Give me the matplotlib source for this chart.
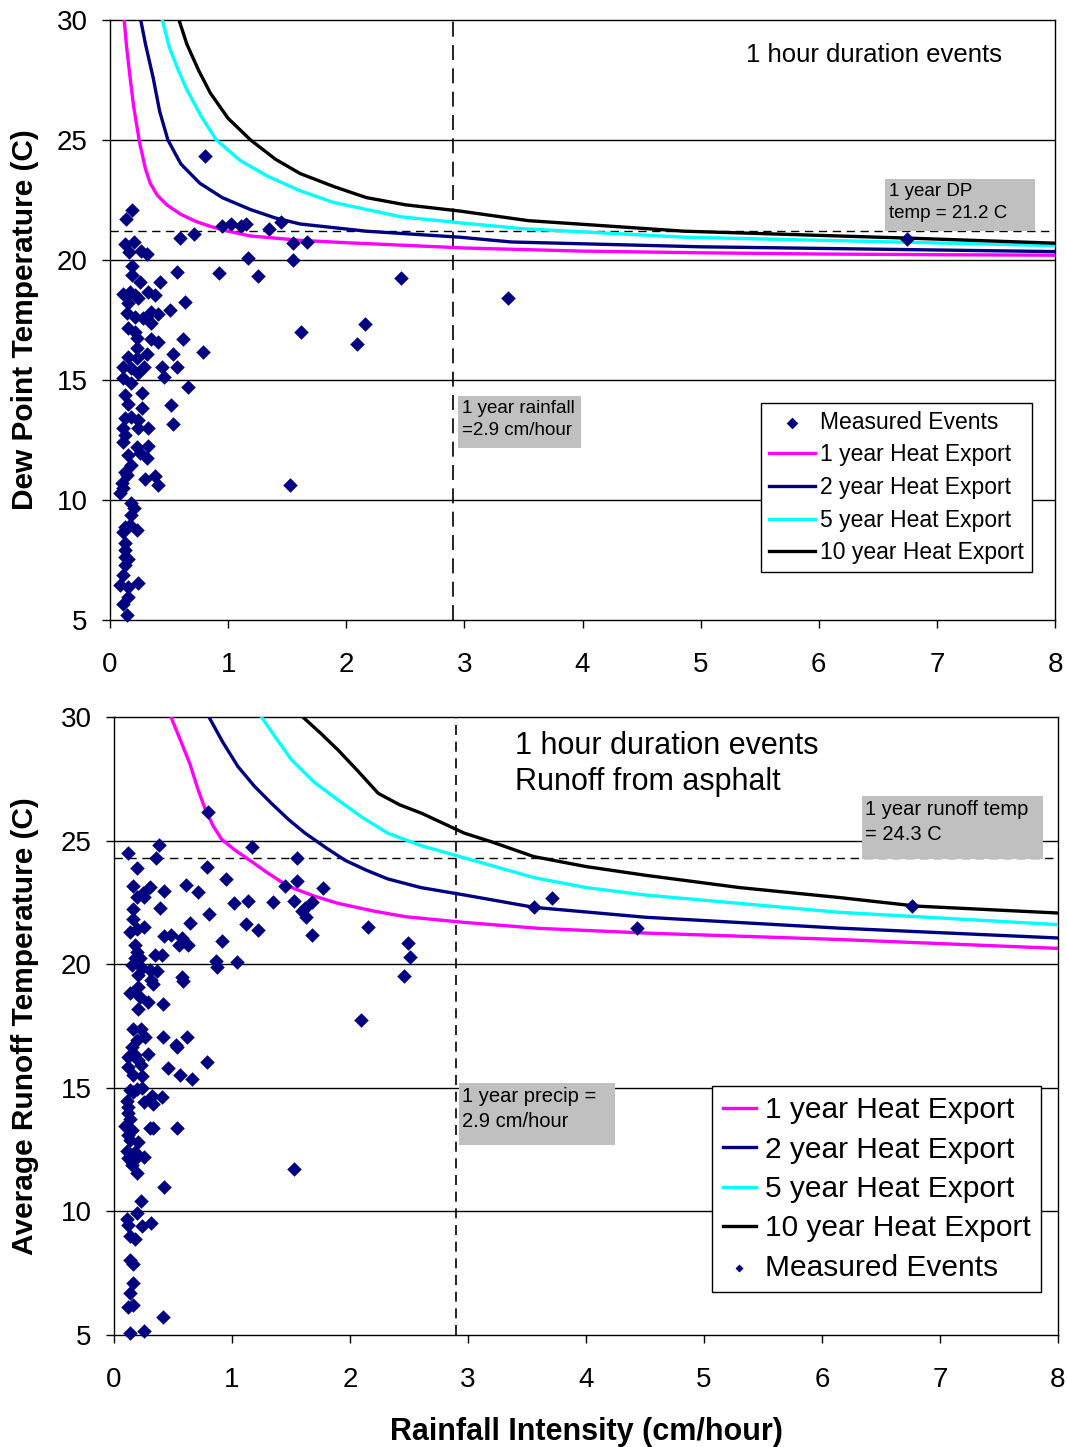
import numpy as np
import matplotlib
matplotlib.use('Agg')
import matplotlib.pyplot as plt
from matplotlib.patches import Rectangle

plt.rcParams['font.family'] = ['Liberation Sans', 'DejaVu Sans']

# ---- Dew point panel: measured events ----
dp_x = [0.19, 0.135, 0.95, 1.02, 1.11, 1.15, 1.35, 1.45, 0.59, 0.71, 1.55, 1.67, 1.17, 1.55,
        0.127, 0.206, 0.16, 0.26, 0.31, 0.19, 0.19, 0.57, 0.92, 1.25, 0.42, 0.25, 0.635, 0.32,
        0.38, 0.11, 0.17, 0.21, 0.155, 0.24, 0.51, 0.35, 0.41, 0.35, 0.14, 0.21, 0.28, 1.62,
        0.155, 0.21, 0.35, 0.41, 0.62, 0.226, 0.226, 0.79, 0.31, 0.155, 0.226, 0.53, 0.11, 0.18,
        0.29, 0.24, 0.44, 0.565, 0.46, 0.11, 0.18, 0.66, 0.127, 0.27, 0.155, 0.52, 0.27,
        0.127, 0.18, 0.24, 0.536, 0.11, 0.24, 0.32, 0.127, 0.11, 0.226, 0.32, 0.155, 0.254, 0.31,
        0.178, 0.127, 0.14, 0.296, 0.38, 0.41, 1.52, 0.1, 0.11, 0.085, 0.18, 0.2, 0.18, 0.127,
        0.17, 0.226, 0.11, 0.127, 0.127, 0.127, 0.155, 0.127, 0.11, 0.085, 0.155, 0.24, 0.155,
        0.11, 0.14, 0.8, 2.16, 2.09, 2.46, 3.37, 6.75]
dp_y = [22.1, 21.7, 21.43, 21.5, 21.43, 21.5, 21.3, 21.6, 20.9, 21.1, 20.7, 20.76, 20.1, 20.0,
        20.65, 20.76, 20.32, 20.37, 20.24, 19.75, 19.37, 19.49, 19.47, 19.35, 19.1, 19.1, 18.25, 18.68,
        18.54, 18.57, 18.68, 18.54, 18.2, 18.4, 17.9, 17.85, 17.74, 17.36, 17.78, 17.64, 17.57, 17.0,
        17.15, 17.0, 16.7, 16.57, 16.7, 16.74, 16.32, 16.18, 16.07, 15.97, 15.9, 16.07, 15.55, 15.49,
        15.55, 15.28, 15.55, 15.55, 15.14, 15.07, 14.86, 14.72, 14.37, 14.44, 13.98, 13.96, 13.83,
        13.4, 13.47, 13.33, 13.17, 12.99, 12.99, 12.99, 12.71, 12.4, 12.2, 12.26, 11.88, 11.95, 11.76,
        11.46, 11.18, 11.04, 10.88, 11.01, 10.63, 10.63, 10.7, 10.49, 10.28, 9.86, 9.65, 9.38, 8.89,
        8.96, 8.75, 8.68, 8.2, 7.92, 7.64, 7.54, 7.3, 6.87, 6.46, 6.39, 6.53, 5.97,
        5.65, 5.2, 24.35, 17.33, 16.5, 19.25, 18.4, 20.86]

# Dew point heat export curves
dp1_x = [0.12, 0.14, 0.17, 0.2, 0.25, 0.3, 0.34, 0.4, 0.48, 0.6, 0.73, 0.85, 1.0, 1.19, 1.61,
         2.0, 3.0, 4.0, 5.0, 6.0, 7.0, 8.0]
dp1_y = [30.0, 28.9, 27.6, 26.4, 24.9, 23.8, 23.2, 22.7, 22.3, 21.9, 21.6, 21.4, 21.2, 21.0, 20.82,
         20.72, 20.5, 20.37, 20.3, 20.25, 20.22, 20.2]
dp2_x = [0.26, 0.3, 0.365, 0.42, 0.49, 0.6, 0.76, 0.95, 1.19, 1.4, 1.61, 2.17, 2.96, 3.4, 5.0, 8.0]
dp2_y = [30.0, 29.0, 27.6, 26.2, 25.0, 24.0, 23.2, 22.6, 22.1, 21.75, 21.5, 21.2, 20.95, 20.75,
         20.55, 20.35]
dp5_x = [0.443, 0.5, 0.57, 0.65, 0.77, 0.9, 1.1, 1.33, 1.6, 1.89, 2.46, 2.96, 3.5, 4.86, 8.0]
dp5_y = [30.0, 28.9, 28.0, 27.1, 26.0, 25.0, 24.15, 23.5, 22.9, 22.4, 21.8, 21.55, 21.3, 20.95, 20.6]
dp10_x = [0.584, 0.65, 0.75, 0.85, 1.0, 1.19, 1.4, 1.61, 1.9, 2.17, 2.5, 2.96, 3.54, 4.86, 6.83, 8.0]
dp10_y = [30.0, 29.0, 27.9, 26.95, 25.9, 25.0, 24.2, 23.6, 23.05, 22.6, 22.3, 22.04, 21.64, 21.2,
          20.9, 20.7]

# ---- Runoff panel: measured events ----
ro_x = [0.116, 0.381, 0.353, 0.192, 1.167, 1.548, 0.785, 0.946, 1.548, 1.449, 1.774, 0.158, 0.305,
        0.427, 0.607, 0.709, 0.249, 0.192, 0.257, 1.02, 1.138, 1.35, 1.528, 1.675, 1.619, 1.59,
        1.627, 0.39, 0.158, 0.158, 0.808, 0.644, 1.119, 1.217, 0.136, 0.192, 0.257, 1.681, 0.427,
        0.483, 0.579, 0.551, 0.624, 0.912, 0.178, 0.192, 0.178, 0.22, 0.347, 0.409, 0.864, 0.87,
        1.04, 0.15, 0.234, 0.206, 0.305, 0.362, 0.314, 0.333, 0.573, 0.588, 0.2, 0.138, 0.22,
        0.291, 0.206, 0.412, 0.164, 0.229, 0.263, 0.192, 0.15, 0.412, 0.621, 0.522, 0.531, 0.121,
        0.206, 0.291, 0.229, 0.178, 0.791, 0.46, 0.121, 0.559, 0.658, 0.164, 0.234,
        0.136, 0.192, 0.234, 0.164, 0.325, 0.41, 0.257, 0.333, 0.107, 0.116, 0.116, 0.136, 0.093,
        0.15, 0.305, 0.333, 0.531, 0.121, 0.136, 0.206, 0.107, 0.178, 0.192, 0.15, 0.257, 0.121,
        0.15, 0.192, 1.528, 0.427, 0.229, 0.192, 0.107, 0.121, 0.24, 0.314, 0.136, 0.178, 0.136,
        0.164, 0.164, 0.136, 0.121, 0.164, 0.418, 0.136, 0.257,
        0.8, 2.155, 2.49, 2.51, 2.46, 2.09, 3.56, 3.71, 4.43, 6.76]
ro_y = [24.49, 24.82, 24.31, 23.88, 24.73, 24.28, 23.92, 23.43, 23.38, 23.18, 23.07, 23.16, 23.14,
        22.98, 23.2, 22.94, 22.87, 22.71, 22.73, 22.49, 22.57, 22.5, 22.57, 22.5, 22.26, 22.17,
        21.9, 22.29, 22.23, 21.83, 22.03, 21.65, 21.61, 21.39, 21.32, 21.41, 21.52, 21.17, 21.14,
        21.17, 21.05, 20.78, 20.78, 20.95, 20.78, 20.51, 20.24, 20.24, 20.37, 20.37, 20.14, 19.9,
        20.09, 19.97, 19.83, 19.56, 19.77, 19.73, 19.36, 19.2, 19.5, 19.33, 19.07, 18.82, 18.69,
        18.46, 18.2, 18.38, 17.37, 17.37, 17.04, 16.93, 16.66, 17.07, 17.04, 16.73, 16.67, 16.26,
        16.13, 16.37, 15.92, 16.33, 16.05, 15.79, 15.83, 15.52, 15.34, 15.52, 15.48,
        14.91, 14.95, 14.98, 14.85, 14.68, 14.64, 14.41, 14.33, 14.47, 14.24, 13.97, 13.73, 13.47,
        13.3, 13.39, 13.39, 13.39, 13.09, 12.89, 12.8, 12.45, 12.42, 12.22, 12.01, 12.22, 12.15,
        11.88, 11.54, 11.7, 11.0, 10.42, 9.92, 9.69, 9.45, 9.41, 9.55, 9.01, 8.87, 8.04,
        7.86, 7.09, 6.71, 6.12, 6.22, 5.74, 5.07, 5.16,
        26.14, 21.49, 20.84, 20.28, 19.53, 17.74, 22.33, 22.66, 21.45, 22.35]

# Runoff heat export curves
ro1_x = [0.483, 0.56, 0.644, 0.71, 0.771, 0.84, 0.913, 1.03, 1.167, 1.3, 1.477, 1.7, 1.9, 2.2,
         2.47, 2.97, 3.6, 4.5, 6.14, 8.0]
ro1_y = [30.0, 29.1, 28.1, 27.1, 26.3, 25.6, 25.05, 24.6, 24.15, 23.7, 23.15, 22.75, 22.46, 22.15,
         21.92, 21.69, 21.45, 21.26, 21.0, 20.64]
ro2_x = [0.805, 0.92, 1.05, 1.19, 1.336, 1.48, 1.62, 1.8, 1.96, 2.14, 2.32, 2.6, 2.97, 3.56, 4.5,
         6.14, 8.0]
ro2_y = [30.0, 29.0, 28.0, 27.2, 26.5, 25.85, 25.3, 24.7, 24.2, 23.8, 23.45, 23.1, 22.8, 22.3,
         21.9, 21.46, 21.06]
ro5_x = [1.25, 1.38, 1.506, 1.7, 1.9, 2.1, 2.32, 2.6, 2.97, 3.56, 4.0, 4.5, 6.14, 8.0]
ro5_y = [30.0, 29.1, 28.26, 27.35, 26.64, 25.95, 25.3, 24.8, 24.3, 23.5, 23.1, 22.8, 22.1, 21.6]
ro10_x = [1.6, 1.75, 1.9, 2.07, 2.24, 2.42, 2.61, 2.97, 3.2, 3.56, 4.0, 4.5, 5.3, 6.14, 6.8, 8.0]
ro10_y = [30.0, 29.35, 28.66, 27.8, 26.91, 26.45, 26.1, 25.3, 24.95, 24.35, 23.95, 23.6, 23.1,
          22.7, 22.35, 22.07]

dp_threshold = 21.2
ro_threshold = 24.3
rain_1yr = 2.9

curve_colors = ['#FF00FF', '#000080', '#00FFFF', '#000000']
curve_labels = ['1 year Heat Export', '2 year Heat Export', '5 year Heat Export', '10 year Heat Export']
event_color = '#000080'

fig = plt.figure(figsize=(10.67, 14.47), dpi=100)
ax1 = fig.add_axes([0.1031, 0.5715, 0.8857, 0.4147])
ax2 = fig.add_axes([0.1068, 0.0774, 0.8847, 0.4271])


def setup_axes(ax):
    ax.set_xlim(0, 8)
    ax.set_ylim(5, 30)
    ax.set_xticks(range(0, 9))
    ax.set_yticks(range(5, 31, 5))
    for y in range(10, 30, 5):
        ax.axhline(y, color='black', lw=1.0, zorder=1)
    for s in ax.spines.values():
        s.set_color('black')
        s.set_linewidth(1.0)
    ax.tick_params(axis='x', direction='out', length=6, width=1, labelsize=20, pad=17)
    ax.tick_params(axis='y', direction='out', length=6, width=1, labelsize=20, pad=10)


def grey_box(ax, x0, y0, x1, y1, text, fontsize, spacing):
    ax.add_patch(Rectangle((x0, y0), x1 - x0, y1 - y0, transform=ax.transAxes,
                           facecolor='#C0C0C0', edgecolor='none', zorder=6))
    ax.text(x0 + 0.004, y1 - 0.006, text, transform=ax.transAxes, fontsize=fontsize,
            ha='left', va='top', linespacing=spacing, zorder=7)


# Top panel: dew point temperature
setup_axes(ax1)
ax1.axhline(dp_threshold, color='black', lw=1.0, ls=(0, (6, 4)), zorder=2)
ax1.axvline(rain_1yr, color='black', lw=1.2, ls=(0, (9, 5)), zorder=2)
dp_curves = [(dp1_x, dp1_y), (dp2_x, dp2_y), (dp5_x, dp5_y), (dp10_x, dp10_y)]
ev1 = ax1.scatter(dp_x, dp_y, marker='D', s=55, color=event_color, zorder=5,
                  clip_on=False, label='Measured Events', linewidths=0)
lines1 = []
for (cx, cy), c, lab in zip(dp_curves, curve_colors, curve_labels):
    ln, = ax1.plot(cx, cy, color=c, lw=2.4, label=lab, zorder=4, solid_joinstyle='round')
    lines1.append(ln)
ax1.set_ylabel('Dew Point Temperature (C)', fontsize=21.5, fontweight='bold')
ax1.yaxis.set_label_coords(-0.075, 0.5)
ax1.text(5.38, 28.55, '1 hour duration events', fontsize=18.5, ha='left', va='center')
grey_box(ax1, 0.820, 0.648, 0.979, 0.735, '1 year DP\ntemp = 21.2 C', 13.5, 1.38)
grey_box(ax1, 0.368, 0.287, 0.498, 0.373, '1 year rainfall\n=2.9 cm/hour', 13.5, 1.38)
leg1 = ax1.legend([ev1] + lines1, ['Measured Events'] + curve_labels,
                  loc='upper right', bbox_to_anchor=(0.976, 0.362), borderaxespad=0,
                  fontsize=16.5, frameon=True, fancybox=False, edgecolor='black',
                  framealpha=1, handlelength=2.0, handletextpad=0.25, borderpad=0.35,
                  labelspacing=0.42, scatterpoints=1, markerscale=0.8)
leg1.get_frame().set_linewidth(1.0)
leg1.set_zorder(8)

# Bottom panel: runoff temperature
setup_axes(ax2)
ax2.axhline(ro_threshold, color='black', lw=1.0, ls=(0, (6, 4)), zorder=2)
ax2.axvline(rain_1yr, color='black', lw=1.2, ls=(0, (6, 4)), zorder=2)
ro_curves = [(ro1_x, ro1_y), (ro2_x, ro2_y), (ro5_x, ro5_y), (ro10_x, ro10_y)]
ev2 = ax2.scatter(ro_x, ro_y, marker='D', s=55, color=event_color, zorder=5,
                  clip_on=False, label='Measured Events', linewidths=0)
lines2 = []
for (cx, cy), c, lab in zip(ro_curves, curve_colors, curve_labels):
    ln, = ax2.plot(cx, cy, color=c, lw=2.4, label=lab, zorder=4, solid_joinstyle='round')
    lines2.append(ln)
ax2.set_ylabel('Average Runoff Temperature (C)', fontsize=21.5, fontweight='bold')
ax2.yaxis.set_label_coords(-0.079, 0.5)
ax2.set_xlabel('Rainfall Intensity (cm/hour)', fontsize=22, fontweight='bold', labelpad=17)
ax2.text(3.40, 28.1, '1 hour duration events\nRunoff from asphalt', fontsize=22,
         ha='left', va='center', linespacing=1.25)
grey_box(ax2, 0.792, 0.770, 0.984, 0.872, '1 year runoff temp\n= 24.3 C', 14.5, 1.4)
grey_box(ax2, 0.365, 0.307, 0.531, 0.408, '1 year precip =\n2.9 cm/hour', 14.5, 1.4)
leg2 = ax2.legend(lines2 + [ev2], curve_labels + ['Measured Events'],
                  loc='upper right', bbox_to_anchor=(0.982, 0.403), borderaxespad=0,
                  fontsize=21.5, frameon=True, fancybox=False, edgecolor='black',
                  framealpha=1, handlelength=1.1, handletextpad=0.3, borderpad=0.35,
                  labelspacing=0.38, scatterpoints=1, markerscale=0.55)
leg2.get_frame().set_linewidth(1.0)
leg2.set_zorder(8)

fig.savefig('out.png', dpi=100)
